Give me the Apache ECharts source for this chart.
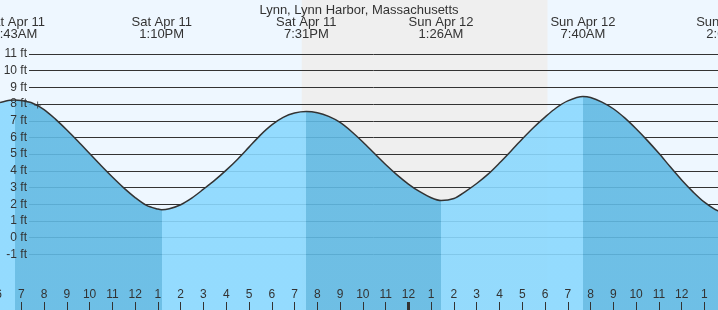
<!DOCTYPE html>
<html><head><meta charset="utf-8">
<script src="https://cdn.jsdelivr.net/npm/echarts@6/dist/echarts.min.js"></script>
<style>html,body{margin:0;padding:0;background:#eef7ff}#c{width:718px;height:310px}</style>
</head><body><div id="c"></div>
<script>
// All times are hours since Sat Apr 11 00:00
const chartTitle = 'Lynn, Lynn Harbor, Massachusetts';
const tideHours = [6.065, 6.5, 6.717, 7.0, 7.5, 8.0, 8.5, 9.0, 9.5, 10.0, 10.5, 11.0, 11.5, 12.0, 12.5, 13.0, 13.167,
  13.5, 14.0, 14.5, 15.0, 15.5, 16.0, 16.5, 17.0, 17.5, 18.0, 18.5, 19.0, 19.517,
  20.0, 20.5, 21.0, 21.5, 22.0, 22.5, 23.0, 23.5, 24.0, 24.5, 25.0, 25.433,
  26.0, 26.5, 27.0, 27.5, 28.0, 28.5, 29.0, 29.5, 30.0, 30.5, 31.0, 31.667,
  32.0, 32.5, 33.0, 33.5, 34.0, 34.5, 35.0, 35.5, 36.0, 36.5, 37.0, 37.597, 38.067];
const tideFeet = [8.10, 8.23, 8.25, 8.21, 8.05, 7.67, 7.10, 6.45, 5.76, 5.04, 4.32, 3.63, 2.98, 2.40, 1.93, 1.71, 1.67,
  1.73, 1.97, 2.38, 2.90, 3.44, 4.04, 4.70, 5.42, 6.14, 6.75, 7.20, 7.46, 7.55,
  7.48, 7.26, 6.90, 6.36, 5.73, 5.05, 4.38, 3.76, 3.21, 2.75, 2.39, 2.22,
  2.34, 2.76, 3.24, 3.80, 4.47, 5.18, 5.91, 6.60, 7.22, 7.78, 8.19, 8.45,
  8.39, 8.12, 7.72, 7.17, 6.52, 5.81, 5.05, 4.24, 3.45, 2.74, 2.12, 1.60, 1.50];
const extremeHours = [6.717, 13.167, 19.517, 25.433, 31.667, 38.067];
const extremeKind  = ['H', 'L', 'H', 'L', 'H', 'L'];
const extremeDates = ['Sat Apr 11', 'Sat Apr 11', 'Sat Apr 11', 'Sun Apr 12', 'Sun Apr 12', 'Sun Apr 12'];
const extremeTimes = ['6:43AM', '1:10PM', '7:31PM', '1:26AM', '7:40AM', '2:04PM'];
const nightStart = 19.317;   // sunset Sat 7:19PM
const nightEnd = 30.11;      // sunrise Sun 6:07AM
const midnightHours = [24];
const markerHour = [7.717];
const markerFeet = [7.95];
const feetTicks = [-1, 0, 1, 2, 3, 4, 5, 6, 7, 8, 9, 10, 11];
const hourMin = 6, hourMax = 39;

// styling / layout
const FONT = 'Liberation Sans, Arial, sans-serif';
const TXT = '#333';
const LIGHT = '#8ad8fe';
const DARK = '#60b9e3';
const PX_PER_HOUR = 22.77;
const X0 = 21.3 - PX_PER_HOUR;       // pixel of hourMin
const PX_PER_FT = 16.69;
const ZERO_Y = 237.6;
const Y_MAX = ZERO_Y / PX_PER_FT;
const Y_MIN = -(310 - ZERO_Y) / PX_PER_FT;
const ftMin = Math.min(...feetTicks), ftMax = Math.max(...feetTicks);

const pieces = [];
extremeHours.forEach((h, i) => {
  const color = extremeKind[i] === 'H' ? LIGHT : DARK;
  if (i === 0) pieces.push({ lt: h, color });
  else pieces.push({ gte: extremeHours[i - 1], lt: h, color });
});
pieces.push({ gte: extremeHours[extremeHours.length - 1], color: extremeKind[extremeKind.length - 1] === 'H' ? DARK : LIGHT });

const tideData = tideHours.map((h, i) => [h, tideFeet[i]]);

function extremeLabel(v) {
  let best = 0;
  extremeHours.forEach((h, i) => { if (Math.abs(h - v) < Math.abs(extremeHours[best] - v)) best = i; });
  return extremeDates[best] + '\n' + extremeTimes[best];
}

const noLine = { show: false, onZero: false };
const chart = echarts.init(document.getElementById('c'));
chart.setOption({
  animation: false,
  backgroundColor: '#eef7ff',
  title: { text: chartTitle, left: 'center', top: -1, textStyle: { fontFamily: FONT, fontSize: 13, fontWeight: 'normal', color: TXT } },
  grid: [
    { left: X0, top: 0, width: (hourMax - hourMin) * PX_PER_HOUR, height: 310, containLabel: false, outerBoundsMode: 'none' },
    { left: 29, right: 0, top: ZERO_Y - ftMax * PX_PER_FT, height: (ftMax - ftMin) * PX_PER_FT, containLabel: false, outerBoundsMode: 'none' }
  ],
  xAxis: [
    { gridIndex: 0, type: 'value', min: hourMin, max: hourMax, interval: 1, position: 'bottom', z: 4,
      axisLine: noLine, splitLine: { show: false },
      axisTick: { show: true, inside: true, length: 8, lineStyle: { color: TXT, width: 1 } },
      axisLabel: { inside: true, margin: 9, showMinLabel: true, showMaxLabel: true, hideOverlap: false, fontFamily: FONT, fontSize: 12, color: TXT,
        formatter: v => String((v % 12) || 12) } },
    { gridIndex: 0, type: 'value', min: hourMin, max: hourMax, position: 'bottom', z: 5,
      axisLine: noLine, splitLine: { show: false }, axisLabel: { show: false, customValues: midnightHours },
      axisTick: { show: true, inside: true, length: 8, customValues: midnightHours, lineStyle: { color: TXT, width: 3 } } },
    { gridIndex: 0, type: 'value', min: hourMin, max: hourMax, position: 'top', z: 4,
      axisLine: noLine, splitLine: { show: false }, axisTick: { show: false },
      axisLabel: { inside: true, margin: 16, customValues: extremeHours, hideOverlap: false, fontFamily: FONT, fontSize: 13, lineHeight: 12, color: TXT, formatter: extremeLabel } },
    { gridIndex: 1, type: 'value', min: 0, max: 1, show: false, axisLine: noLine }
  ],
  yAxis: [
    { gridIndex: 0, type: 'value', min: Y_MIN, max: Y_MAX, show: false, axisLine: noLine },
    { gridIndex: 1, type: 'value', min: ftMin, max: ftMax, interval: 1, z: 1.5, position: 'left',
      axisLine: noLine, axisTick: { show: false }, axisLabel: { show: false },
      splitLine: { show: true, lineStyle: { color: '#333', width: 1 } } },
    { gridIndex: 1, type: 'value', min: ftMin, max: ftMax, interval: 1, z: 4, position: 'left',
      axisLine: noLine, axisTick: { show: false }, splitLine: { show: false },
      axisLabel: { margin: 2, fontFamily: FONT, fontSize: 12, color: TXT, formatter: '{value} ft' } }
  ],
  visualMap: { type: 'piecewise', show: false, dimension: 0, seriesIndex: 1, pieces },
  series: [
    { type: 'custom', xAxisIndex: 0, yAxisIndex: 0, z: 1, silent: true,
      data: [[nightStart, nightEnd]], encode: { x: [0, 1] },
      renderItem: (params, api) => {
        const p0 = api.coord([api.value(0), Y_MAX]);
        const p1 = api.coord([api.value(1), Y_MIN]);
        return { type: 'rect', shape: { x: p0[0], y: p0[1], width: p1[0] - p0[0], height: p1[1] - p0[1] }, style: { fill: '#efefef' } };
      } },
    { type: 'line', xAxisIndex: 0, yAxisIndex: 0, z: 2, data: tideData, smooth: 0.3, symbol: 'none', silent: true,
      lineStyle: { width: 0 }, areaStyle: { opacity: 0.9, origin: 'start' } },
    { type: 'line', xAxisIndex: 0, yAxisIndex: 0, z: 3, data: tideData, smooth: 0.3, symbol: 'none', silent: true,
      lineStyle: { color: '#333', width: 1.5 } },
    { type: 'scatter', xAxisIndex: 0, yAxisIndex: 0, z: 4, silent: true,
      data: markerHour.map((h, i) => [h, markerFeet[i]]),
      symbol: 'path://M3,0H4V3H7V4H4V7H3V4H0V3H3Z', symbolSize: 7, itemStyle: { color: '#333' } }
  ]
});
</script></body></html>
